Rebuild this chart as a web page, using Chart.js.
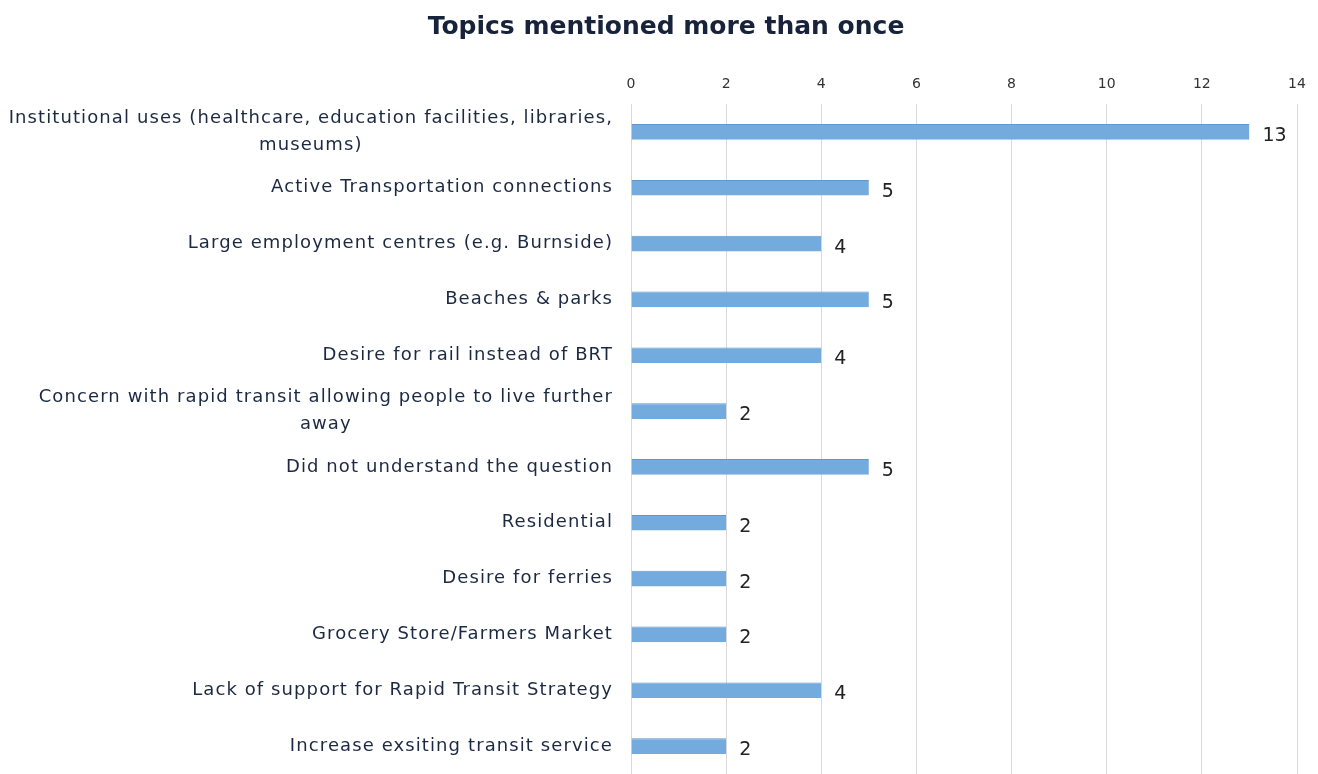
<!DOCTYPE html>
<html>
<head>
<meta charset="utf-8">
<script src="https://cdn.jsdelivr.net/npm/chart.js@4"></script>
<style>
  html, body { margin: 0; padding: 0; background: #fff; }
  #wrap { width: 1318px; height: 774px; }
</style>
</head>
<body>
<div id="wrap"><canvas id="topicsChart" width="1318" height="774"></canvas></div>
<script>
// Chart data
const chartTitle = 'Topics mentioned more than once';
const topics = [
    ['Institutional uses (healthcare, education facilities, libraries,', 'museums)'],
    'Active Transportation connections',
    'Large employment centres (e.g. Burnside)',
    'Beaches & parks',
    'Desire for rail instead of BRT',
    ['Concern with rapid transit allowing people to live further', 'away'],
    'Did not understand the question',
    'Residential',
    'Desire for ferries',
    'Grocery Store/Farmers Market',
    'Lack of support for Rapid Transit Strategy',
    'Increase exsiting transit service'
];
const mentions = [13, 5, 4, 5, 4, 2, 5, 2, 2, 2, 4, 2];
const xTicks = [0, 2, 4, 6, 8, 10, 12, 14];

const labelFont = '18px "DejaVu Sans"';
const labelColor = '#1b2942';

// Title + y labels drawn by hand (wrapped lines centred like in Excel)
const categoryLabels = {
    id: 'categoryLabels',
    afterDraw(chart) {
        const ctx = chart.ctx;
        const yScale = chart.scales.y;
        const rightEdge = yScale.right - 18;
        ctx.save();
        ctx.textAlign = 'center';
        ctx.textBaseline = 'middle';

        ctx.font = 'bold 25px "DejaVu Sans"';
        ctx.fillStyle = '#17233a';
        ctx.fillText(chartTitle, 666, 27);

        ctx.font = labelFont;
        ctx.letterSpacing = '1.1px';
        ctx.fillStyle = labelColor;
        const lineH = 27;
        topics.forEach((label, i) => {
            const lines = Array.isArray(label) ? label : [label];
            const maxW = Math.max(...lines.map(l => ctx.measureText(l).width));
            const cx = rightEdge - maxW / 2;
            const yMid = yScale.getPixelForTick(i);
            lines.forEach((line, j) => {
                ctx.fillText(line, cx, yMid + (j - (lines.length - 1) / 2) * lineH);
            });
        });
        ctx.letterSpacing = '0px';
        ctx.restore();
    }
};

// Value labels at the end of each bar
const valueLabels = {
    id: 'valueLabels',
    afterDatasetsDraw(chart) {
        const ctx = chart.ctx;
        const meta = chart.getDatasetMeta(0);
        ctx.save();
        ctx.letterSpacing = '0px';
        ctx.font = '19px "DejaVu Sans"';
        ctx.fillStyle = '#222';
        ctx.textAlign = 'left';
        ctx.textBaseline = 'middle';
        meta.data.forEach((bar, i) => {
            ctx.fillText(String(mentions[i]), bar.x + 13, bar.y + 4);
        });
        ctx.restore();
    }
};

const ctxTopics = document.getElementById('topicsChart').getContext('2d');
const topicsChart = new Chart(ctxTopics, {
    type: 'bar',
    data: {
        labels: topics,
        datasets: [{
            label: 'Mentions',
            data: mentions,
            backgroundColor: '#74abde',
            borderColor: '#5f98d0',
            borderWidth: { top: 1, bottom: 0, left: 0, right: 0 },
            barPercentage: 0.28,
            categoryPercentage: 1
        }]
    },
    options: {
        indexAxis: 'y',
        responsive: false,
        animation: false,
        layout: {
            padding: { left: 0, right: 21, top: 42, bottom: -2 }
        },
        plugins: {
            legend: { display: false },
            tooltip: { enabled: false },
            title: { display: false }
        },
        scales: {
            x: {
                position: 'top',
                min: 0,
                max: 14,
                afterBuildTicks(scale) {
                    scale.ticks = xTicks.map(v => ({ value: v }));
                },
                afterFit(scale) {
                    scale.height = 62;
                },
                ticks: {
                    color: '#333',
                    font: { family: '"DejaVu Sans"', size: 14 },
                    padding: 11
                },
                grid: {
                    color: '#d9d9d9',
                    drawTicks: false
                },
                border: { display: false }
            },
            y: {
                afterFit(scale) {
                    scale.width = 631;
                },
                ticks: { display: false },
                grid: { display: false },
                border: { display: false }
            }
        }
    },
    plugins: [categoryLabels, valueLabels]
});
</script>
</body>
</html>
